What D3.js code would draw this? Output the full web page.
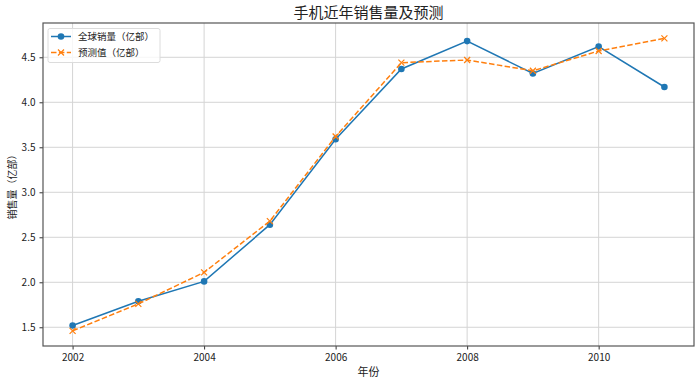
<!DOCTYPE html>
<html>
<head>
<meta charset="utf-8">
<script src="https://cdn.jsdelivr.net/npm/d3@7"></script>
<style>
  body { margin: 0; background: #fff; }
  svg { display: block; font-family: "Noto Sans CJK SC", "DejaVu Sans", sans-serif; }
</style>
</head>
<body>
<svg id="canvas"></svg>
<script>
let years = [2002, 2003, 2004, 2005, 2006, 2007, 2008, 2009, 2010, 2011];
let sales = [1.52, 1.79, 2.01, 2.64, 3.59, 4.37, 4.68, 4.32, 4.62, 4.17];
let forecast = [1.46, 1.76, 2.11, 2.68, 3.62, 4.44, 4.47, 4.35, 4.57, 4.71];
let xTicks = [2002, 2004, 2006, 2008, 2010];
let yTicks = [1.5, 2.0, 2.5, 3.0, 3.5, 4.0, 4.5];
let seriesNames = ['全球销量（亿部）', '预测值（亿部）'];

let width = 700;
let height = 385;
let plotLeft = 43, plotRight = 694, plotTop = 23, plotBottom = 346;

let blue = '#1f77b4';
let orange = '#ff7f0e';

let canvas = d3.select('#canvas')
    .attr('width', width)
    .attr('height', height);

let xScale = d3.scaleLinear()
    .domain([2001.55, 2011.45])
    .range([plotLeft, plotRight]);

let yScale = d3.scaleLinear()
    .domain([1.292, 4.881])
    .range([plotBottom, plotTop]);

// grid
canvas.append('g')
    .selectAll('line')
    .data(xTicks)
    .enter()
    .append('line')
    .attr('x1', d => xScale(d)).attr('x2', d => xScale(d))
    .attr('y1', plotTop).attr('y2', plotBottom)
    .attr('stroke', '#d4d4d4').attr('stroke-width', 1);

canvas.append('g')
    .selectAll('line')
    .data(yTicks)
    .enter()
    .append('line')
    .attr('x1', plotLeft).attr('x2', plotRight)
    .attr('y1', d => yScale(d)).attr('y2', d => yScale(d))
    .attr('stroke', '#d4d4d4').attr('stroke-width', 1);

// axes
let xAxis = d3.axisBottom(xScale).tickValues(xTicks).tickFormat(d3.format('d')).tickSizeOuter(0).tickSize(3.5).tickPadding(4);
let yAxis = d3.axisLeft(yScale).tickValues(yTicks).tickFormat(d3.format('.1f')).tickSizeOuter(0).tickSize(3.5).tickPadding(4);

let gx = canvas.append('g')
    .attr('transform', 'translate(0,' + plotBottom + ')')
    .call(xAxis);
let gy = canvas.append('g')
    .attr('transform', 'translate(' + plotLeft + ',0)')
    .call(yAxis);

[gx, gy].forEach(g => {
    g.select('.domain').remove();
    g.selectAll('.tick line').attr('stroke', '#333');
    g.selectAll('.tick text')
     .attr('fill', '#222')
     .style('font-size', '10px')
     .style('font-family', '"Noto Sans CJK SC", sans-serif');
});

// frame
canvas.append('rect')
    .attr('x', plotLeft).attr('y', plotTop)
    .attr('width', plotRight - plotLeft).attr('height', plotBottom - plotTop)
    .attr('fill', 'none')
    .attr('stroke', '#555')
    .attr('stroke-width', 1.2);

// lines
let line = d3.line()
    .x((d, i) => xScale(years[i]))
    .y(d => yScale(d));

canvas.append('path')
    .datum(sales)
    .attr('d', line)
    .attr('fill', 'none')
    .attr('stroke', blue)
    .attr('stroke-width', 1.5);

canvas.append('g')
    .selectAll('circle')
    .data(sales)
    .enter()
    .append('circle')
    .attr('cx', (d, i) => xScale(years[i]))
    .attr('cy', d => yScale(d))
    .attr('r', 3.3)
    .attr('fill', blue);

canvas.append('path')
    .datum(forecast)
    .attr('d', line)
    .attr('fill', 'none')
    .attr('stroke', orange)
    .attr('stroke-width', 1.5)
    .attr('stroke-dasharray', '5.5,2.4');

let xMark = (g, cx, cy, s) => {
    g.append('path')
     .attr('d', 'M' + (cx - s) + ',' + (cy - s) + 'L' + (cx + s) + ',' + (cy + s) +
                'M' + (cx - s) + ',' + (cy + s) + 'L' + (cx + s) + ',' + (cy - s))
     .attr('stroke', orange)
     .attr('stroke-width', 1.2)
     .attr('fill', 'none');
};

let xMarks = canvas.append('g');
forecast.forEach((d, i) => xMark(xMarks, xScale(years[i]), yScale(d), 3));

// legend
let legend = canvas.append('g');
legend.append('rect')
    .attr('x', 48).attr('y', 28.5)
    .attr('width', 112).attr('height', 34)
    .attr('rx', 2)
    .attr('fill', 'rgba(255,255,255,0.8)')
    .attr('stroke', '#dcdcdc')
    .attr('stroke-width', 1);

let rowY = [36.5, 52.5];
legend.append('line')
    .attr('x1', 51).attr('x2', 71).attr('y1', rowY[0]).attr('y2', rowY[0])
    .attr('stroke', blue).attr('stroke-width', 1.5);
legend.append('circle')
    .attr('cx', 61).attr('cy', rowY[0]).attr('r', 3.3).attr('fill', blue);
legend.append('line')
    .attr('x1', 51).attr('x2', 71).attr('y1', rowY[1]).attr('y2', rowY[1])
    .attr('stroke', orange).attr('stroke-width', 1.5)
    .attr('stroke-dasharray', '5.5,2.4');
xMark(legend, 61, rowY[1], 3);

legend.selectAll('text')
    .data(seriesNames)
    .enter()
    .append('text')
    .attr('x', 78)
    .attr('y', (d, i) => rowY[i])
    .attr('dy', '0.35em')
    .style('font-size', '9.5px')
    .attr('fill', '#222')
    .text(d => d);

// title and labels
canvas.append('text')
    .attr('x', (plotLeft + plotRight) / 2)
    .attr('y', 13)
    .attr('dy', '0.35em')
    .attr('text-anchor', 'middle')
    .style('font-size', '15px')
    .attr('fill', '#222')
    .text('手机近年销售量及预测');

canvas.append('text')
    .attr('x', (plotLeft + plotRight) / 2)
    .attr('y', 372)
    .attr('dy', '0.35em')
    .attr('text-anchor', 'middle')
    .style('font-size', '11px')
    .attr('fill', '#222')
    .text('年份');

canvas.append('text')
    .attr('transform', 'translate(12,' + ((plotTop + plotBottom) / 2) + ') rotate(-90)')
    .attr('dy', '0.35em')
    .attr('text-anchor', 'middle')
    .style('font-size', '10px')
    .attr('fill', '#222')
    .text('销售量（亿部）');
</script>
</body>
</html>
